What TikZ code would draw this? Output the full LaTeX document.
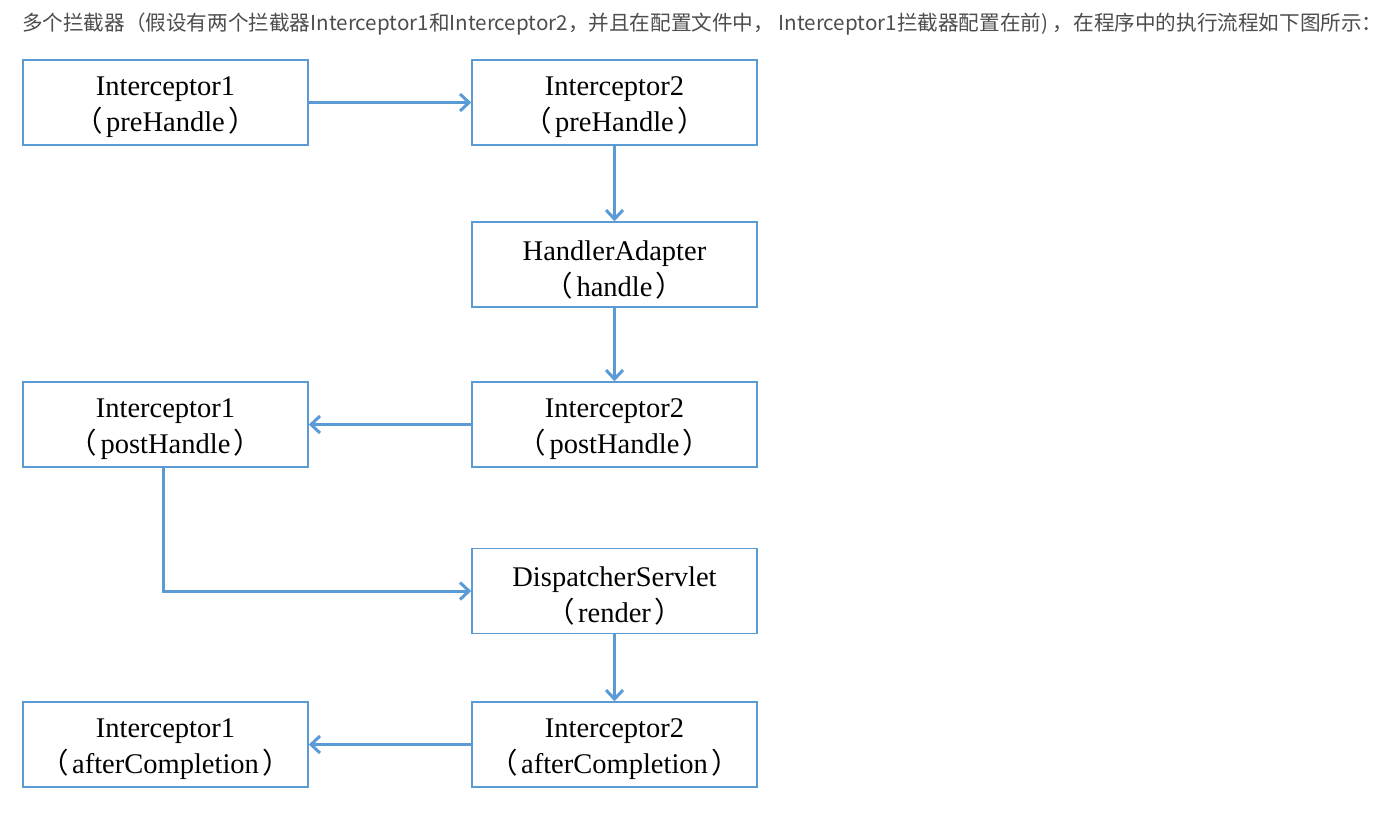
\documentclass[tikz,border=0pt]{standalone}
\usepackage{fontspec}
\setmainfont{Liberation Serif}
\newfontfamily\cjk{Noto Sans CJK SC}
\usetikzlibrary{arrows.meta}
\definecolor{lineblue}{HTML}{5B9BD5}
\definecolor{headgray}{HTML}{4D4D4D}
\newcommand{\lp}{\makebox[35pt][c]{\cjk （}}
\newcommand{\rp}{\makebox[35pt][c]{\cjk ）}}
\begin{document}
\begin{tikzpicture}[x=1pt,y=-1pt,
  box/.style={draw=lineblue,line width=1.6pt,minimum width=285pt,minimum height=85pt,
    inner sep=0pt,align=center,text=black},
  txt/.style={inner sep=0pt,align=center,font=\fontsize{28.5}{36}\selectfont,text=black},
  conn/.style={draw=lineblue,line width=3pt,-{Straight Barb[length=9pt,width=17pt]}},
  header/.style={anchor=west,inner sep=0pt,text=headgray,font=\cjk\fontsize{20.6}{24}\selectfont}]
\useasboundingbox[fill=white] (0,0) rectangle (1389,812);
\node[header] (title) at (22,24) {多个拦截器（假设有两个拦截器Interceptor1和Interceptor2，并且在配置文件中， Interceptor1拦截器配置在前) ，在程序中的执行流程如下图所示：};
\node[box] (L1) at (165.5,102.5) {};
\node[box] (R1) at (614.5,102.5) {};
\node[box] (HA) at (614.5,264.5) {};
\node[box] (R3) at (614.5,424.5) {};
\node[box] (L3) at (165.5,424.5) {};
\node[box] (DS) at (614.5,591) {};
\node[box] (R5) at (614.5,744.5) {};
\node[box] (L5) at (165.5,744.5) {};
\node[txt] (tL1) at ([yshift=-5pt]L1.center) {Interceptor1\\\lp preHandle\rp};
\node[txt] (tR1) at ([yshift=-5pt]R1.center) {Interceptor2\\\lp preHandle\rp};
\node[txt] (tHA) at ([yshift=-5pt]HA.center) {HandlerAdapter\\\lp handle\rp};
\node[txt] (tR3) at ([yshift=-5pt]R3.center) {Interceptor2\\\lp postHandle\rp};
\node[txt] (tL3) at ([yshift=-5pt]L3.center) {Interceptor1\\\lp postHandle\rp};
\node[txt] (tDS) at ([yshift=-5pt]DS.center) {DispatcherServlet\\\lp render\rp};
\node[txt] (tR5) at ([yshift=-5pt]R5.center) {Interceptor2\\\lp afterCompletion\rp};
\node[txt] (tL5) at ([yshift=-5pt]L5.center) {Interceptor1\\\lp afterCompletion\rp};
\draw[conn] (L1) -- (R1);
\draw[conn] (R1) -- (HA);
\draw[conn] (HA) -- (R3);
\draw[conn] (R3) -- (L3);
\draw[conn] ([xshift=-2.5pt]L3.south) |- (DS.west);
\draw[conn] (DS) -- (R5);
\draw[conn] (R5) -- (L5);
\end{tikzpicture}
\end{document}
